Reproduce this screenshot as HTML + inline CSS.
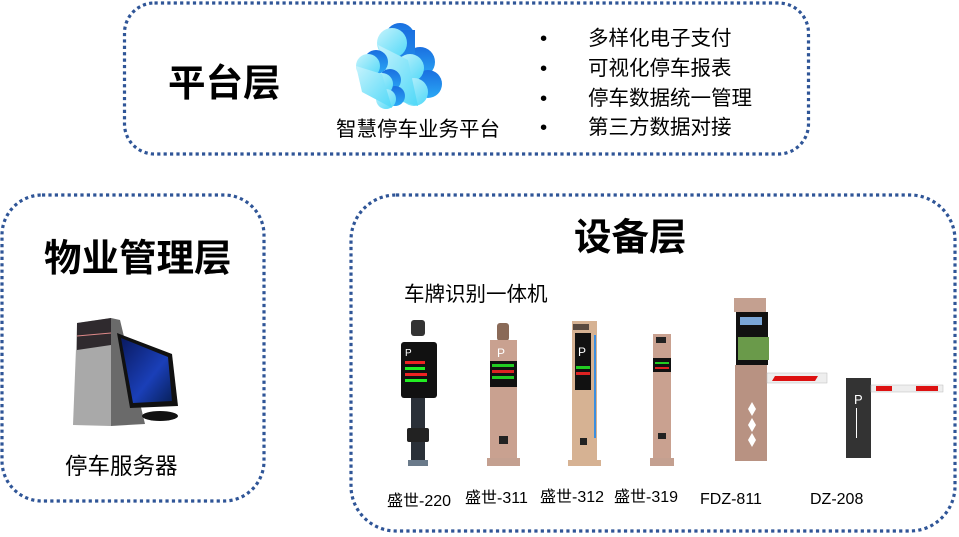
<!DOCTYPE html>
<html><head><meta charset="utf-8"><style>
html,body{margin:0;padding:0;background:#fff;}
svg{display:block;}
text{font-family:"Liberation Sans","Noto Sans CJK SC",sans-serif;fill:#000;}
.t{font-weight:bold;font-size:37.5px;}
.s{font-size:20.5px;}
.l{font-size:16px;}
</style></head><body>
<svg width="959" height="537" viewBox="0 0 959 537" xmlns="http://www.w3.org/2000/svg">
<g fill="none" stroke="#2f5597" stroke-width="3.2" stroke-dasharray="3.2 3.2">
<rect x="124.5" y="3" width="684" height="151" rx="30"/>
<rect x="2" y="195" width="262" height="306" rx="40"/>
<rect x="351" y="195" width="604" height="336" rx="45"/>
</g>
<text class="t" x="168" y="96">平台层</text>
<text class="t" x="44" y="271">物业管理层</text>
<text class="t" x="574" y="250">设备层</text>
<defs>
<linearGradient id="cg" x1="0" y1="0" x2="1" y2="1"><stop offset="0" stop-color="#c6f3fc"/><stop offset="1" stop-color="#4fd8f8"/></linearGradient>
<linearGradient id="cb" x1="0" y1="0" x2="0" y2="1"><stop offset="0" stop-color="#1a6fe0"/><stop offset="1" stop-color="#2aa8f5"/></linearGradient>
<linearGradient id="scr" x1="0" y1="0" x2="1" y2="1"><stop offset="0" stop-color="#0a1a60"/><stop offset=".6" stop-color="#1a3fb8"/><stop offset="1" stop-color="#08205a"/></linearGradient>
</defs>
<!-- back cloud -->
<g fill="url(#cb)">
<circle cx="400" cy="38" r="15"/><circle cx="420" cy="62" r="15"/><circle cx="428" cy="84" r="14"/>
<rect x="385" y="30" width="30" height="70"/>
</g>
<g fill="url(#cg)">
<circle cx="392" cy="43" r="15"/><circle cx="410" cy="68" r="14"/><circle cx="414" cy="92" r="14"/>
<path d="M378 45 L408 60 L418 106 L395 100 Z"/>
</g>
<g fill="url(#cb)">
<circle cx="376" cy="62" r="12"/><circle cx="390" cy="80" r="11"/><circle cx="395" cy="96" r="10"/>
</g>
<g fill="url(#cg)">
<circle cx="368" cy="66" r="12"/><circle cx="382" cy="84" r="11"/><circle cx="386" cy="99" r="10"/>
<path d="M356 66 L382 74 L392 108 L362 92 Z"/>
</g>
<text class="s" x="336" y="136">智慧停车业务平台</text>
<text class="s" x="540" y="45">•</text><text class="s" x="588" y="45">多样化电子支付</text>
<text class="s" x="540" y="75">•</text><text class="s" x="588" y="75">可视化停车报表</text>
<text class="s" x="540" y="105">•</text><text class="s" x="588" y="105">停车数据统一管理</text>
<text class="s" x="540" y="134">•</text><text class="s" x="588" y="134">第三方数据对接</text>
<!-- server -->
<polygon points="77,323 111,318 111,426 73,425" fill="#a9a9a9"/>
<polygon points="111,318 120,320 145,424 111,426" fill="#6a6a6a"/>
<polygon points="77,323 111,318 111,345 77,350" fill="#2f2a2e"/>
<line x1="77" y1="336" x2="111" y2="333" stroke="#d88" stroke-width="1"/>
<polygon points="117,333 172,354 178,406 130,408" fill="#111"/>
<polygon points="121,338 168,357 172,401 133,403" fill="url(#scr)"/>
<ellipse cx="160" cy="416" rx="18" ry="5" fill="#111"/>
<text x="65" y="474" style="font-size:22.5px">停车服务器</text>
<text class="s" x="404" y="301">车牌识别一体机</text>
<!-- 220 -->
<rect x="411" y="320" width="14" height="16" rx="3" fill="#333"/>
<rect x="401" y="342" width="36" height="56" rx="3" fill="#111"/>
<rect x="405" y="361" width="20" height="3" fill="#e22"/><rect x="405" y="367" width="20" height="3" fill="#2e2"/><rect x="405" y="373" width="22" height="3" fill="#e22"/><rect x="405" y="379" width="22" height="3" fill="#2e2"/>
<text x="405" y="356" font-size="10" style="fill:#fff">P</text>
<rect x="411" y="398" width="14" height="30" fill="#2a3038"/>
<rect x="407" y="428" width="22" height="14" rx="2" fill="#222"/>
<rect x="411" y="442" width="14" height="23" fill="#2a3038"/>
<rect x="408" y="460" width="20" height="6" fill="#6a7a8a"/>
<!-- 311 -->
<rect x="497" y="323" width="12" height="18" rx="3" fill="#8a6a58"/>
<rect x="490" y="340" width="27" height="124" fill="#c9a190"/>
<rect x="487" y="458" width="33" height="8" fill="#c4a090"/>
<rect x="490" y="361" width="27" height="26" fill="#111"/>
<rect x="492" y="364" width="22" height="3" fill="#2c2"/><rect x="492" y="370" width="22" height="3" fill="#d22"/><rect x="492" y="376" width="22" height="3" fill="#2c2"/>
<text x="497" y="357" font-size="12" style="fill:#fff">P</text>
<rect x="499" y="436" width="9" height="8" fill="#222"/>
<!-- 312 -->
<rect x="572" y="321" width="25" height="139" fill="#d6b293"/>
<rect x="575" y="333" width="16" height="57" fill="#111"/>
<text x="578" y="356" font-size="12" style="fill:#fff">P</text>
<rect x="576" y="366" width="14" height="3" fill="#2c2"/><rect x="576" y="372" width="14" height="3" fill="#d22"/>
<rect x="573" y="324" width="16" height="6" fill="#5a4a40"/>
<rect x="594" y="335" width="2" height="103" fill="#3a8ee0"/>
<rect x="568" y="460" width="33" height="6" fill="#d6b293"/>
<rect x="580" y="438" width="7" height="7" fill="#222"/>
<!-- 319 -->
<rect x="653" y="334" width="18" height="126" fill="#c9a190"/>
<rect x="650" y="458" width="24" height="8" fill="#c4a090"/>
<rect x="656" y="337" width="10" height="6" fill="#222"/>
<rect x="653" y="358" width="18" height="14" fill="#111"/>
<rect x="655" y="362" width="14" height="2" fill="#2c2"/><rect x="655" y="367" width="14" height="2" fill="#d22"/>
<rect x="658" y="433" width="8" height="6" fill="#222"/>
<!-- FDZ-811 -->
<rect x="734" y="298" width="32" height="14" fill="#c4a090"/>
<rect x="736" y="312" width="32" height="53" fill="#111"/>
<rect x="738" y="337" width="31" height="23" fill="#6a9a4a"/>
<rect x="740" y="317" width="22" height="8" fill="#7aa6d8"/>
<rect x="735" y="365" width="32" height="96" fill="#b89282"/>
<rect x="767" y="373" width="60" height="10" fill="#eee" stroke="#bbb" stroke-width=".5"/>
<polygon points="775,376 818,376 815,381 772,381" fill="#d11"/>
<polygon points="752,402 756,409 752,416 748,409" fill="#fff"/>
<polygon points="752,418 756,425 752,432 748,425" fill="#fff"/>
<polygon points="752,433 756,440 752,447 748,440" fill="#fff"/>
<!-- DZ-208 -->
<rect x="846" y="378" width="25" height="80" fill="#333"/>
<text x="854" y="404" font-size="13" style="fill:#fff">P</text>
<rect x="856" y="408" width="1" height="30" fill="#fff"/>
<rect x="871" y="385" width="72" height="7" fill="#eee" stroke="#bbb" stroke-width=".5"/>
<rect x="876" y="386" width="16" height="5" fill="#d11"/><rect x="916" y="386" width="22" height="5" fill="#d11"/>
<text class="l" x="387" y="506">盛世-220</text>
<text class="l" x="465" y="503">盛世-311</text>
<text class="l" x="540" y="502">盛世-312</text>
<text class="l" x="614" y="502">盛世-319</text>
<text class="l" x="700" y="504">FDZ-811</text>
<text class="l" x="810" y="504">DZ-208</text>
</svg>
</body></html>
